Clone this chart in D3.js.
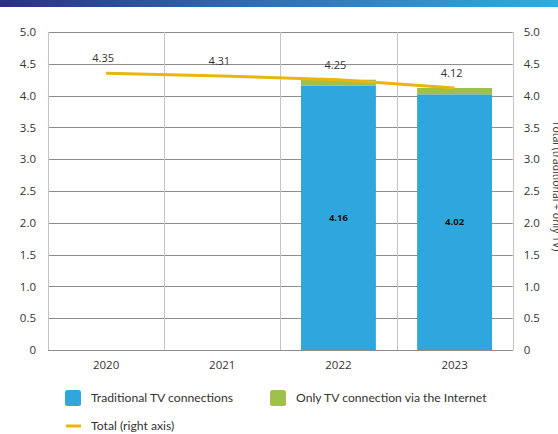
<!DOCTYPE html>
<html>
<head>
<meta charset="utf-8">
<script src="https://cdn.jsdelivr.net/npm/d3@7"></script>
<style>
  html, body { margin: 0; padding: 0; background: #fff; }
  svg { display: block; }
</style>
</head>
<body>
<svg id="chart" width="558" height="434"></svg>
<script>
// Data
const years = ["2020", "2021", "2022", "2023"];
const traditional = [null, null, 4.16, 4.02];
const internetOnly = [null, null, 0.09, 0.10];
const total = [4.35, 4.31, 4.25, 4.12];
const yTicks = [0, 0.5, 1.0, 1.5, 2.0, 2.5, 3.0, 3.5, 4.0, 4.5, 5.0];

const BLUE = "#30a6de", GREEN = "#9fc04a", YELLOW = "#ebb510";
const tickFont = "'Open Sans', sans-serif";
const legendFont = "Lato, sans-serif";

const svg = d3.select("#chart");

// Header stripe
const defs = svg.append("defs");
const grad = defs.append("linearGradient").attr("id", "hdr").attr("x1", "0").attr("x2", "1");
grad.append("stop").attr("offset", "0").attr("stop-color", "#2b2f86");
grad.append("stop").attr("offset", "0.45").attr("stop-color", "#2f6db4");
grad.append("stop").attr("offset", "1").attr("stop-color", "#33aae1");
svg.append("rect").attr("x", 0).attr("y", 0).attr("width", 558).attr("height", 7).attr("fill", "url(#hdr)");

const plotL = 48, plotR = 512.7, plotT = 32, plotB = 350;
const x = d3.scaleBand().domain(years).range([plotL, plotR]).padding(0);
const y = d3.scaleLinear().domain([0, 5]).range([plotB, plotT]);
const yR = d3.scaleLinear().domain([0, 5]).range([plotB, plotT]);

const fmt = v => v === 0 ? "0" : d3.format(".1f")(v);

// Horizontal gridlines
svg.append("g").selectAll("line").data(yTicks).join("line")
  .attr("x1", plotL).attr("x2", plotR)
  .attr("y1", d => Math.round(y(d)) + 0.5).attr("y2", d => Math.round(y(d)) + 0.5)
  .attr("stroke", "#8d8d8d").attr("stroke-width", 1);

// Vertical category dividers and frame sides
const dividers = years.map(d => x(d)).concat([plotR]);
svg.append("g").selectAll("line").data(dividers).join("line")
  .attr("x1", d => Math.round(d) + 0.5).attr("x2", d => Math.round(d) + 0.5)
  .attr("y1", plotT).attr("y2", plotB)
  .attr("stroke", "#c4c4c4").attr("stroke-width", 1);

// Stacked bars
const barW = x.bandwidth() * 0.645;
const barX = d => x(d) + (x.bandwidth() - barW) / 2;
const stacked = years.map((yr, i) => ({ yr, t: traditional[i], o: internetOnly[i] })).filter(d => d.t != null);

svg.append("g").selectAll("rect").data(stacked).join("rect")
  .attr("x", d => barX(d.yr)).attr("width", barW)
  .attr("y", d => y(d.t)).attr("height", d => y(0) - y(d.t))
  .attr("fill", BLUE);
svg.append("g").selectAll("rect").data(stacked).join("rect")
  .attr("x", d => barX(d.yr)).attr("width", barW)
  .attr("y", d => y(d.t + d.o)).attr("height", d => y(d.t) - y(d.t + d.o))
  .attr("fill", GREEN);

// Baseline
svg.append("line").attr("x1", plotL).attr("x2", plotR)
  .attr("y1", plotB + 0.5).attr("y2", plotB + 0.5)
  .attr("stroke", "#8d8d8d");

// Value labels inside bars
svg.append("g").selectAll("text").data(stacked).join("text")
  .attr("x", d => x(d.yr) + x.bandwidth() / 2)
  .attr("y", d => y(d.t / 2))
  .attr("dy", "0.35em")
  .attr("text-anchor", "middle")
  .attr("font-family", "'Open Sans', sans-serif").attr("font-weight", 700)
  .attr("font-size", 9.5).attr("fill", "#111")
  .text(d => d3.format(".2f")(d.t));

// Total line (right axis)
const pts = years.map((yr, i) => [x(yr) + x.bandwidth() / 2, yR(total[i])]);
svg.append("path").datum(pts)
  .attr("d", d3.line())
  .attr("fill", "none").attr("stroke", YELLOW).attr("stroke-width", 3);

svg.append("g").selectAll("text").data(years).join("text")
  .attr("x", (d, i) => x(d) + x.bandwidth() / 2 - 3)
  .attr("y", (d, i) => yR(total[i]) - 15)
  .attr("dy", "0.35em")
  .attr("text-anchor", "middle")
  .attr("font-family", tickFont).attr("font-size", 11).attr("fill", "#333")
  .text((d, i) => d3.format(".2f")(total[i]));

// Left axis labels
const axisL = d3.axisLeft(y).tickValues(yTicks).tickFormat(fmt).tickSize(0).tickPadding(12);
const gL = svg.append("g").attr("transform", `translate(${plotL},0)`).call(axisL);
gL.select(".domain").remove();
gL.selectAll("text").attr("font-family", tickFont).attr("font-size", 11.5).attr("fill", "#333");

// Right axis labels
const axisR = d3.axisRight(yR).tickValues(yTicks).tickFormat(fmt).tickSize(0).tickPadding(11);
const gR = svg.append("g").attr("transform", `translate(${plotR},0)`).call(axisR);
gR.select(".domain").remove();
gR.selectAll("text").attr("font-family", tickFont).attr("font-size", 11.5).attr("fill", "#333");

// Category axis labels
const axisB = d3.axisBottom(x).tickSize(0).tickPadding(11);
const gB = svg.append("g").attr("transform", `translate(0,${plotB})`).call(axisB);
gB.select(".domain").remove();
gB.selectAll("text").attr("font-family", tickFont).attr("font-size", 11.5).attr("fill", "#333");

// Right axis title, running down the right edge
svg.append("text")
  .attr("transform", `translate(553,186) rotate(90)`)
  .attr("text-anchor", "middle")
  .attr("font-family", tickFont).attr("font-size", 10.5).attr("fill", "#333")
  .text("Total (traditional + only TV)");

// Legend
const legend = svg.append("g").attr("font-family", legendFont).attr("font-size", 12.2).attr("fill", "#333");
const items = [
  { label: "Traditional TV connections", color: BLUE, kind: "box", lx: 65, ly: 398 },
  { label: "Only TV connection via the Internet", color: GREEN, kind: "box", lx: 270, ly: 398 },
  { label: "Total (right axis)", color: YELLOW, kind: "line", lx: 65, ly: 426 }
];
items.forEach(it => {
  if (it.kind === "box") {
    legend.append("rect").attr("x", it.lx).attr("y", it.ly - 8).attr("width", 16).attr("height", 16)
      .attr("rx", 2.5).attr("fill", it.color);
  } else {
    legend.append("line").attr("x1", it.lx + 1).attr("x2", it.lx + 16)
      .attr("y1", it.ly).attr("y2", it.ly).attr("stroke", it.color).attr("stroke-width", 3);
  }
  legend.append("text").attr("x", it.lx + 26).attr("y", it.ly).attr("dy", "0.35em").text(it.label);
});
</script>
</body>
</html>
